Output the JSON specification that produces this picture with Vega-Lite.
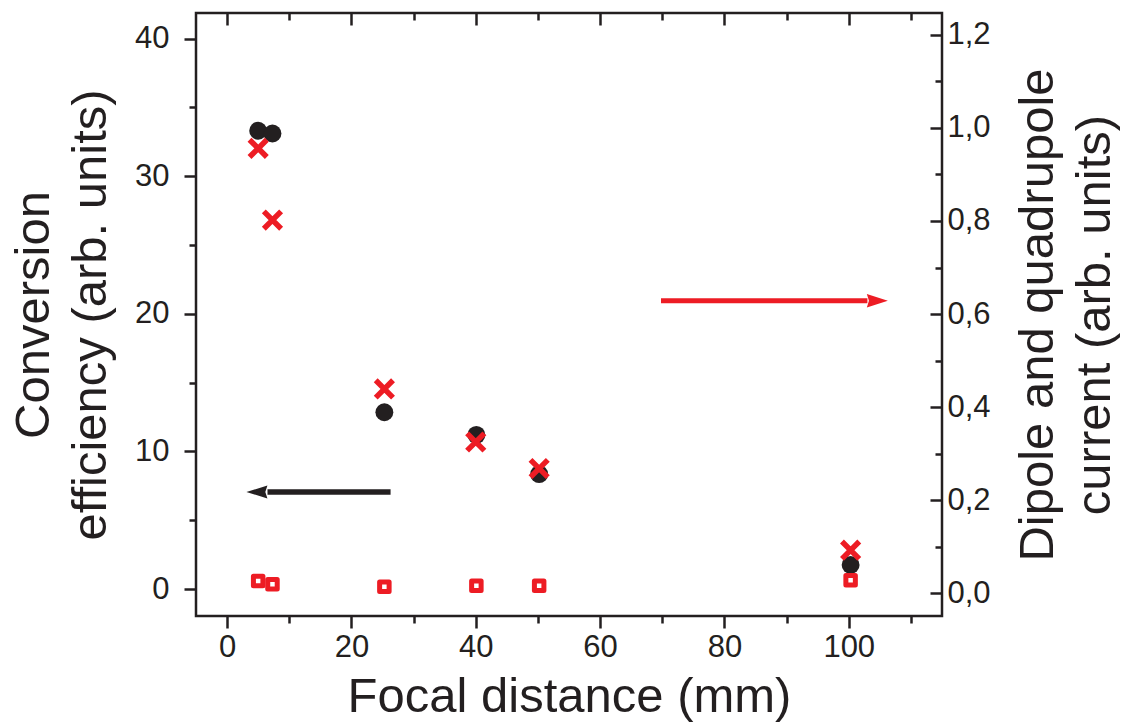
{
  "$schema": "https://vega.github.io/schema/vega-lite/v6.json",
  "width": 746,
  "height": 603,
  "autosize": "none",
  "padding": {"left": 196, "top": 13, "right": 179, "bottom": 108},
  "background": "white",
  "config": {
    "view": {"stroke": "#231f20", "strokeWidth": 2.5},
    "axis": {
      "grid": false,
      "domain": false,
      "labelFont": "Liberation Sans",
      "titleFont": "Liberation Sans",
      "labelColor": "#231f20",
      "titleColor": "#231f20",
      "tickColor": "#231f20",
      "tickWidth": 2.5,
      "labelFontSize": 31,
      "titleFontSize": 49,
      "titleFontWeight": "normal",
      "titleLineHeight": 57,
      "labelOverlap": false,
      "labelFlush": false
    }
  },
  "datasets": {
    "efficiency": [
      {"focal": 5, "efficiency": 33.3},
      {"focal": 7.3, "efficiency": 33.1},
      {"focal": 25.3, "efficiency": 12.85},
      {"focal": 40.1, "efficiency": 11.2},
      {"focal": 50.2, "efficiency": 8.35},
      {"focal": 100.3, "efficiency": 1.75}
    ],
    "current": [
      {"focal": 5, "current": 0.956, "series": "cross"},
      {"focal": 7.3, "current": 0.802, "series": "cross"},
      {"focal": 25.3, "current": 0.439, "series": "cross"},
      {"focal": 40, "current": 0.325, "series": "cross"},
      {"focal": 50.2, "current": 0.268, "series": "cross"},
      {"focal": 100.3, "current": 0.0925, "series": "cross"},
      {"focal": 5, "current": 0.026, "series": "square"},
      {"focal": 7.3, "current": 0.019, "series": "square"},
      {"focal": 25.3, "current": 0.014, "series": "square"},
      {"focal": 40.1, "current": 0.016, "series": "square"},
      {"focal": 50.2, "current": 0.016, "series": "square"},
      {"focal": 100.3, "current": 0.028, "series": "square"}
    ],
    "arrowLeft": [{"start": 26.3, "end": 6.5, "head": 4.8, "level": 7.05}],
    "arrowRight": [{"start": 69.8, "end": 103, "head": 104.6, "level": 0.6286}]
  },
  "layer": [
    {
      "layer": [
        {
          "data": {"name": "arrowLeft"},
          "mark": {"type": "rule", "color": "#231f20", "strokeWidth": 5.5},
          "encoding": {
            "x": {"field": "start", "type": "quantitative"},
            "x2": {"field": "end"},
            "y": {"field": "level", "type": "quantitative"}
          }
        },
        {
          "data": {"name": "arrowLeft"},
          "mark": {"type": "point", "shape": "M-1,0L1,-0.62L0.8,0L1,0.62Z", "filled": true, "color": "#231f20", "size": 441, "opacity": 1},
          "encoding": {
            "x": {"field": "head", "type": "quantitative"},
            "y": {"field": "level", "type": "quantitative"}
          }
        },
        {
          "data": {"name": "efficiency"},
          "mark": {"type": "point", "shape": "circle", "filled": true, "color": "#231f20", "size": 320, "opacity": 1},
          "encoding": {
            "x": {
              "field": "focal", "type": "quantitative",
              "scale": {"domain": [-5, 115], "nice": false, "zero": false},
              "axis": {
                "orient": "bottom",
                "title": "Focal distance (mm)",
                "values": [0, 10, 20, 30, 40, 50, 60, 70, 80, 90, 100, 110],
                "labelExpr": "datum.value % 20 === 0 ? datum.label : ''",
                "tickSize": {"condition": {"test": "datum.value % 20 === 0", "value": 12}, "value": 7},
                "labelPadding": 4,
                "titlePadding": 10
              }
            },
            "y": {
              "field": "efficiency", "type": "quantitative",
              "scale": {"domain": [-1.96, 41.86], "nice": false, "zero": false},
              "axis": {
                "orient": "left",
                "title": ["Conversion", "efficiency (arb. units)"],
                "values": [0, 5, 10, 15, 20, 25, 30, 35, 40],
                "labelExpr": "datum.value % 10 === 0 ? datum.label : ''",
                "tickSize": {"condition": {"test": "datum.value % 10 === 0", "value": 12}, "value": 7},
                "labelPadding": 15,
                "titlePadding": 19
              }
            }
          }
        }
      ]
    },
    {
      "layer": [
        {
          "data": {"name": "arrowRight"},
          "mark": {"type": "rule", "color": "#ed1c24", "strokeWidth": 5},
          "encoding": {
            "x": {"field": "start", "type": "quantitative"},
            "x2": {"field": "end"},
            "y": {"field": "level", "type": "quantitative"}
          }
        },
        {
          "data": {"name": "arrowRight"},
          "mark": {"type": "point", "shape": "M1,0L-1,-0.65L-0.8,0L-1,0.65Z", "filled": true, "color": "#ed1c24", "size": 441, "opacity": 1},
          "encoding": {
            "x": {"field": "head", "type": "quantitative"},
            "y": {"field": "level", "type": "quantitative"}
          }
        },
        {
          "data": {"name": "current"},
          "transform": [{"filter": "datum.series === 'square'"}],
          "mark": {"type": "point", "shape": "square", "filled": false, "color": "#ed1c24", "strokeWidth": 5, "strokeJoin": "round", "size": 90, "opacity": 1},
          "encoding": {
            "x": {"field": "focal", "type": "quantitative"},
            "y": {"field": "current", "type": "quantitative"}
          }
        },
        {
          "data": {"name": "current"},
          "transform": [{"filter": "datum.series === 'cross'"}],
          "mark": {"type": "point", "shape": "M-1,-1L1,1M-1,1L1,-1", "filled": false, "color": "#ed1c24", "strokeWidth": 5.5, "size": 300, "opacity": 1},
          "encoding": {
            "x": {
              "field": "focal", "type": "quantitative",
              "axis": {
                "orient": "top",
                "title": null,
                "labels": false,
                "values": [0, 10, 20, 30, 40, 50, 60, 70, 80, 90, 100, 110],
                "tickSize": {"condition": {"test": "datum.value % 20 === 0", "value": -12}, "value": -7}
              }
            },
            "y": {
              "field": "current", "type": "quantitative",
              "scale": {"domain": [-0.049, 1.247], "nice": false, "zero": false},
              "axis": {
                "orient": "right",
                "title": ["Dipole and quadrupole", "current (arb. units)"],
                "titleAngle": 270,
                "values": [0, 0.1, 0.2, 0.3, 0.4, 0.5, 0.6, 0.7, 0.8, 0.9, 1.0, 1.1, 1.2],
                "labelExpr": "round(datum.value * 10) % 2 === 0 ? replace(format(datum.value, '.1f'), '.', ',') : ''",
                "tickSize": {"condition": {"test": "round(datum.value * 10) % 2 === 0", "value": -12}, "value": -7},
                "labelPadding": 17,
                "titlePadding": 15
              }
            }
          }
        }
      ]
    }
  ],
  "resolve": {"scale": {"y": "independent"}, "axis": {"x": "independent"}}
}
